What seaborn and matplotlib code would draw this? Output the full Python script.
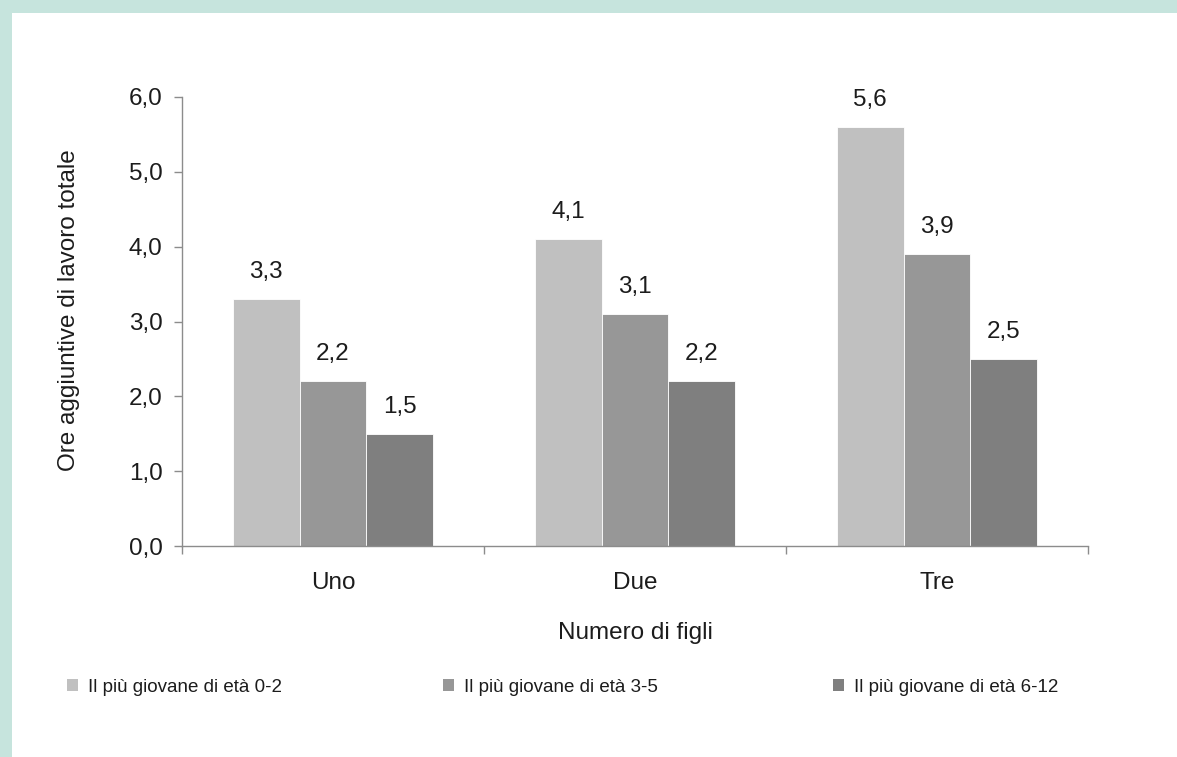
import matplotlib
matplotlib.use("Agg")
import matplotlib.pyplot as plt
from matplotlib.patches import Rectangle, Patch
from matplotlib.ticker import FixedLocator
import seaborn as sns
import pandas as pd

# Data
categorie = ["Uno", "Due", "Tre"]
serie = ["Il più giovane di età 0-2", "Il più giovane di età 3-5", "Il più giovane di età 6-12"]
eta_0_2 = [3.3, 4.1, 5.6]
eta_3_5 = [2.2, 3.1, 3.9]
eta_6_12 = [1.5, 2.2, 2.5]
colori = ["#c0c0c0", "#979797", "#7f7f7f"]
y_ticks = [0.0, 1.0, 2.0, 3.0, 4.0, 5.0, 6.0]

valori = [eta_0_2, eta_3_5, eta_6_12]
df = pd.DataFrame({
    "figli": [c for _ in serie for c in categorie],
    "gruppo": [s for s in serie for _ in categorie],
    "ore": [v for vals in valori for v in vals],
})

sns.set_theme(style="white")
plt.rcParams["font.family"] = ["Liberation Sans", "DejaVu Sans"]
testo = "#1c1c1c"
grigio_assi = "#8c8c8c"
fs_assi = 17.5
fs_leg = 13.5

W, H = 1177, 757
fig = plt.figure(figsize=(W / 100, H / 100), dpi=100)
fig.patch.set_facecolor("#c6e4dd")
fig.add_artist(Rectangle((12 / W, 0), 1, 1 - 13 / H, transform=fig.transFigure,
                         facecolor="white", edgecolor="none", zorder=0))

ax = fig.add_axes([182 / W, 1 - 546 / H, (1088 - 182) / W, (546 - 97) / H])
ax.set_facecolor("none")

sns.barplot(data=df, x="figli", y="ore", hue="gruppo", order=categorie, hue_order=serie,
            palette=colori, width=0.665, gap=0, saturation=1, edgecolor="white",
            linewidth=0.6, errorbar=None, legend=False, ax=ax)

for cont in ax.containers:
    ax.bar_label(cont, labels=[f"{b.get_height():.1f}".replace(".", ",") for b in cont],
                 padding=11.5, fontsize=fs_assi, color=testo)

ax.set_ylim(0, 6)
ax.set_xlim(-0.5, 2.5)
ax.set_yticks(y_ticks)
ax.set_yticklabels([f"{t:.1f}".replace(".", ",") for t in y_ticks], fontsize=fs_assi, color=testo)
ax.set_xticks(range(len(categorie)))
ax.set_xticklabels(categorie, fontsize=fs_assi, color=testo)
ax.xaxis.set_minor_locator(FixedLocator([-0.5, 0.5, 1.5, 2.5]))
ax.tick_params(axis="x", which="major", length=0, pad=19)
ax.tick_params(axis="x", which="minor", length=6, width=1, color=grigio_assi, direction="out", bottom=True)
ax.tick_params(axis="y", length=6, width=1, color=grigio_assi, direction="out", left=True, pad=8)

sns.despine(ax=ax)
for s in ("left", "bottom"):
    ax.spines[s].set_color(grigio_assi)
    ax.spines[s].set_linewidth(1)

ax.set_xlabel("Numero di figli", fontsize=fs_assi, color=testo, labelpad=20)
ax.set_ylabel("Ore aggiuntive di lavoro totale", fontsize=fs_assi, color=testo)
ax.yaxis.set_label_coords(-0.1126, 0.525)

# Legend entries laid out in a single row below the chart
x_voci = [67, 443, 833]
for xv, col, nome in zip(x_voci, colori, serie):
    fig.legend([Patch(facecolor=col, edgecolor="none")], [nome], loc="center left",
               bbox_to_anchor=(xv / W, 1 - 687 / H), frameon=False, fontsize=fs_leg,
               handlelength=0.57, handleheight=0.57, handletextpad=0.55,
               borderpad=0, borderaxespad=0, labelcolor=testo)

fig.savefig("out.png", dpi=100, facecolor=fig.get_facecolor())
